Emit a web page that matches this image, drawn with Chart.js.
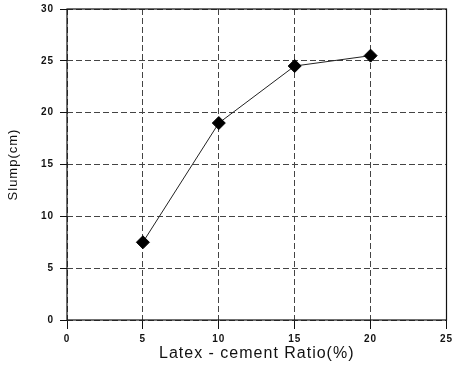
<!DOCTYPE html>
<html><head><meta charset="utf-8">
<script src="https://cdn.jsdelivr.net/npm/chart.js@4.4.1/dist/chart.umd.min.js"></script>
<style>html,body{margin:0;padding:0;background:#fff}#wrap{width:454px;height:365px}</style>
</head><body><div id="wrap"><canvas id="c"></canvas></div>
<script>
const ratios = [5, 10, 15, 20];
const slump = [7.5, 19, 24.5, 25.5];
const xTitle = 'Latex - cement Ratio(%)';
const yTitle = 'Slump(cm)';

const frame = {
  id: 'frame',
  beforeDraw(chart) { chart.ctx.letterSpacing = '1px'; },
  afterDatasetsDraw(chart) {
    const a = chart.chartArea, ctx = chart.ctx;
    ctx.save();
    ctx.strokeStyle = '#111'; ctx.lineWidth = 1.2;
    ctx.strokeRect(a.left, a.top, a.right - a.left, a.bottom - a.top);
    ctx.restore();
  }
};

new Chart(document.getElementById('c'), {
  type: 'scatter',
  data: { datasets: [{
    data: ratios.map((x, i) => ({x, y: slump[i]})),
    showLine: true, borderColor: '#222', borderWidth: 1,
    pointStyle: 'rectRot', pointRadius: 6.5, pointBackgroundColor: '#000', pointBorderColor: '#000'
  }]},
  options: {
    responsive: true, maintainAspectRatio: false, animation: false,
    layout: { padding: { top: 9, right: 4, left: 0, bottom: 0 } },
    plugins: { legend: { display: false }, tooltip: { enabled: false } },
    scales: {
      x: {
        type: 'linear', min: 0, max: 25,
        ticks: { stepSize: 5, color: '#111', font: { family: 'Liberation Sans', size: 10, weight: 'bold' }, padding: 4 },
        grid: { color: '#444', lineWidth: 1, tickLength: 9, tickColor: '#111' },
        border: { display: false, dash: [6, 3] },
        title: { display: true, text: xTitle, color: '#111', font: { family: 'Liberation Sans', size: 16 }, padding: { top: 0, bottom: 2 } },
        afterFit(s) { s.height = 45; s.paddingLeft = 0; s.paddingRight = 0; }
      },
      y: {
        min: 0, max: 30,
        ticks: { stepSize: 5, color: '#111', font: { family: 'Liberation Sans', size: 10, weight: 'bold' }, padding: 6 },
        grid: { color: '#444', lineWidth: 1, tickLength: 7, tickColor: '#111' },
        border: { display: false, dash: [6, 3] },
        title: { display: true, text: yTitle, color: '#111', font: { family: 'Liberation Sans', size: 13 }, padding: { top: 6, bottom: 0 } },
        afterFit(s) { s.width = 67; s.paddingTop = 0; s.paddingBottom = 0; }
      }
    }
  },
  plugins: [frame]
});
</script></body></html>
